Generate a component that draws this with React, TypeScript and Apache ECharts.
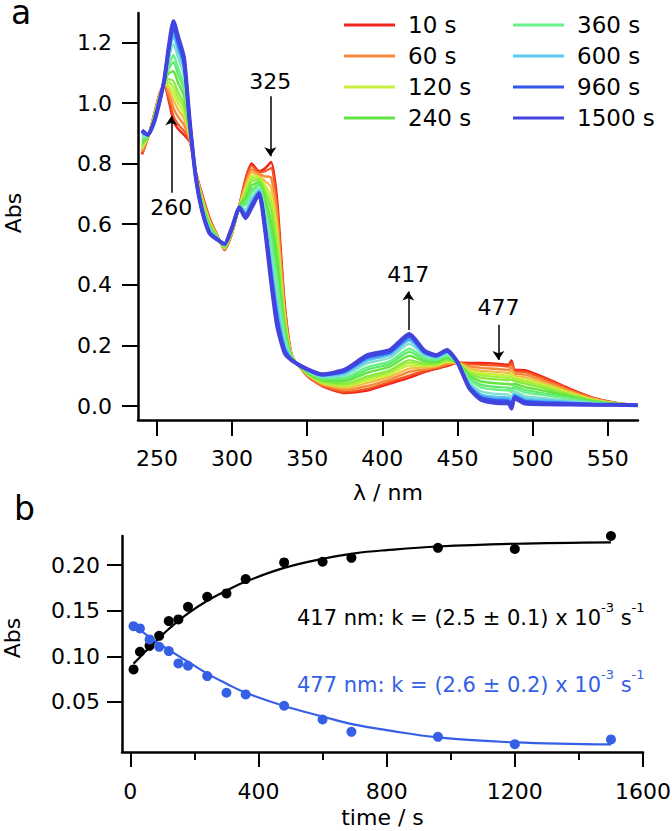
import React, { useEffect, useRef } from 'react';
import * as echarts from 'echarts';

const FONT = 'DejaVu Sans';

// ---------- panel a : spectra ----------
const wavelengths = [240, 244, 248, 252, 255, 258, 261, 264, 268, 272, 276, 280, 285, 290, 295, 300, 305, 309, 313, 318, 322, 326, 330, 335, 340, 350, 360, 375, 390, 405, 418, 428, 436, 443, 450, 458, 466, 476, 484, 486, 488, 495, 510, 525, 540, 555, 570];

const abs10 = [0.83, 0.885, 0.96, 1.035, 1.06, 1.005, 0.94, 0.915, 0.895, 0.87, 0.77, 0.70, 0.62, 0.565, 0.515, 0.57, 0.665, 0.75, 0.80, 0.775, 0.785, 0.805, 0.68, 0.34, 0.165, 0.10, 0.066, 0.043, 0.051, 0.074, 0.094, 0.112, 0.123, 0.132, 0.143, 0.142, 0.142, 0.14, 0.136, 0.15, 0.12, 0.118, 0.09, 0.057, 0.028, 0.011, 0.003];
const abs30 = [0.834, 0.886, 0.959, 1.034, 1.061, 1.014, 0.957, 0.930, 0.908, 0.873, 0.769, 0.697, 0.618, 0.564, 0.516, 0.571, 0.665, 0.744, 0.793, 0.771, 0.775, 0.785, 0.659, 0.332, 0.164, 0.101, 0.068, 0.047, 0.057, 0.080, 0.101, 0.116, 0.125, 0.135, 0.143, 0.138, 0.136, 0.134, 0.130, 0.142, 0.115, 0.113, 0.086, 0.054, 0.027, 0.011, 0.003];
const abs60 = [0.840, 0.886, 0.957, 1.032, 1.063, 1.029, 0.983, 0.955, 0.928, 0.878, 0.767, 0.693, 0.614, 0.563, 0.518, 0.573, 0.664, 0.733, 0.781, 0.765, 0.758, 0.754, 0.626, 0.319, 0.163, 0.103, 0.071, 0.053, 0.066, 0.088, 0.113, 0.121, 0.129, 0.139, 0.143, 0.131, 0.126, 0.123, 0.119, 0.129, 0.108, 0.104, 0.079, 0.050, 0.025, 0.010, 0.003];
const abs90 = [0.847, 0.887, 0.955, 1.030, 1.064, 1.044, 1.009, 0.979, 0.949, 0.883, 0.766, 0.688, 0.610, 0.562, 0.519, 0.574, 0.663, 0.723, 0.770, 0.759, 0.742, 0.722, 0.593, 0.305, 0.162, 0.105, 0.074, 0.059, 0.076, 0.097, 0.124, 0.127, 0.132, 0.143, 0.143, 0.124, 0.116, 0.113, 0.109, 0.117, 0.100, 0.095, 0.072, 0.046, 0.023, 0.010, 0.003];
const abs120 = [0.852, 0.888, 0.953, 1.028, 1.066, 1.057, 1.032, 1.000, 0.966, 0.887, 0.764, 0.685, 0.606, 0.561, 0.521, 0.576, 0.662, 0.714, 0.759, 0.754, 0.728, 0.694, 0.564, 0.294, 0.161, 0.106, 0.077, 0.065, 0.084, 0.105, 0.134, 0.132, 0.136, 0.147, 0.144, 0.118, 0.108, 0.104, 0.100, 0.106, 0.094, 0.087, 0.066, 0.042, 0.021, 0.009, 0.003];
const abs150 = [0.857, 0.888, 0.952, 1.027, 1.067, 1.068, 1.052, 1.019, 0.982, 0.890, 0.763, 0.681, 0.603, 0.560, 0.522, 0.577, 0.662, 0.706, 0.751, 0.750, 0.715, 0.671, 0.539, 0.284, 0.160, 0.107, 0.079, 0.069, 0.091, 0.112, 0.143, 0.136, 0.138, 0.150, 0.144, 0.113, 0.101, 0.096, 0.093, 0.096, 0.088, 0.081, 0.061, 0.039, 0.020, 0.009, 0.003];
const abs180 = [0.862, 0.889, 0.950, 1.025, 1.068, 1.079, 1.072, 1.037, 0.997, 0.894, 0.762, 0.678, 0.600, 0.559, 0.523, 0.578, 0.661, 0.698, 0.742, 0.745, 0.703, 0.647, 0.514, 0.274, 0.159, 0.109, 0.082, 0.074, 0.098, 0.118, 0.152, 0.140, 0.141, 0.153, 0.144, 0.108, 0.093, 0.088, 0.085, 0.087, 0.082, 0.074, 0.056, 0.036, 0.018, 0.008, 0.003];
const abs240 = [0.870, 0.890, 0.948, 1.023, 1.070, 1.098, 1.105, 1.068, 1.023, 0.900, 0.760, 0.673, 0.595, 0.558, 0.525, 0.580, 0.660, 0.685, 0.728, 0.738, 0.683, 0.608, 0.473, 0.258, 0.158, 0.111, 0.086, 0.082, 0.110, 0.130, 0.166, 0.148, 0.146, 0.159, 0.144, 0.100, 0.081, 0.075, 0.073, 0.071, 0.073, 0.063, 0.048, 0.031, 0.016, 0.008, 0.003];
const abs300 = [0.877, 0.891, 0.945, 1.020, 1.072, 1.114, 1.135, 1.095, 1.045, 0.905, 0.758, 0.668, 0.591, 0.556, 0.527, 0.582, 0.659, 0.673, 0.714, 0.731, 0.664, 0.572, 0.435, 0.243, 0.156, 0.113, 0.089, 0.088, 0.120, 0.139, 0.179, 0.154, 0.150, 0.163, 0.144, 0.092, 0.070, 0.063, 0.061, 0.057, 0.065, 0.053, 0.040, 0.026, 0.014, 0.007, 0.003];
const abs360 = [0.883, 0.892, 0.944, 1.019, 1.073, 1.127, 1.158, 1.116, 1.063, 0.910, 0.757, 0.664, 0.587, 0.555, 0.528, 0.583, 0.658, 0.664, 0.704, 0.726, 0.650, 0.544, 0.406, 0.231, 0.155, 0.115, 0.092, 0.094, 0.128, 0.147, 0.189, 0.159, 0.153, 0.167, 0.144, 0.087, 0.061, 0.054, 0.052, 0.046, 0.058, 0.045, 0.035, 0.023, 0.012, 0.006, 0.003];
const abs480 = [0.892, 0.893, 0.941, 1.016, 1.075, 1.147, 1.194, 1.150, 1.091, 0.916, 0.755, 0.658, 0.582, 0.553, 0.530, 0.585, 0.657, 0.650, 0.688, 0.717, 0.627, 0.501, 0.360, 0.213, 0.153, 0.117, 0.096, 0.102, 0.141, 0.159, 0.205, 0.167, 0.158, 0.173, 0.145, 0.077, 0.048, 0.040, 0.038, 0.028, 0.048, 0.033, 0.025, 0.017, 0.010, 0.006, 0.003];
const abs600 = [0.898, 0.894, 0.939, 1.014, 1.077, 1.162, 1.221, 1.174, 1.112, 0.921, 0.753, 0.653, 0.578, 0.552, 0.532, 0.587, 0.657, 0.640, 0.677, 0.711, 0.611, 0.469, 0.327, 0.200, 0.152, 0.119, 0.099, 0.108, 0.150, 0.168, 0.216, 0.172, 0.161, 0.177, 0.145, 0.071, 0.038, 0.030, 0.028, 0.016, 0.040, 0.025, 0.019, 0.013, 0.008, 0.005, 0.003];
const abs690 = [0.901, 0.894, 0.938, 1.013, 1.078, 1.170, 1.234, 1.186, 1.122, 0.923, 0.752, 0.651, 0.576, 0.552, 0.533, 0.588, 0.656, 0.634, 0.671, 0.708, 0.603, 0.453, 0.311, 0.193, 0.152, 0.120, 0.101, 0.112, 0.155, 0.173, 0.222, 0.175, 0.163, 0.179, 0.145, 0.067, 0.033, 0.024, 0.023, 0.009, 0.036, 0.020, 0.015, 0.011, 0.007, 0.005, 0.003];
const abs960 = [0.906, 0.895, 0.936, 1.011, 1.079, 1.181, 1.254, 1.205, 1.137, 0.927, 0.751, 0.648, 0.573, 0.551, 0.534, 0.589, 0.656, 0.627, 0.662, 0.704, 0.590, 0.430, 0.286, 0.183, 0.151, 0.121, 0.103, 0.116, 0.162, 0.179, 0.231, 0.179, 0.166, 0.182, 0.145, 0.062, 0.026, 0.017, 0.015, 0.000, 0.031, 0.014, 0.010, 0.008, 0.005, 0.004, 0.003];
const abs1200 = [0.908, 0.895, 0.936, 1.011, 1.080, 1.186, 1.263, 1.214, 1.145, 0.929, 0.750, 0.646, 0.571, 0.550, 0.535, 0.590, 0.655, 0.623, 0.658, 0.702, 0.584, 0.418, 0.273, 0.178, 0.150, 0.122, 0.104, 0.118, 0.166, 0.183, 0.235, 0.182, 0.167, 0.184, 0.145, 0.060, 0.022, 0.013, 0.012, -0.005, 0.028, 0.010, 0.008, 0.006, 0.005, 0.004, 0.003];
const abs1500 = [0.91, 0.895, 0.935, 1.01, 1.08, 1.19, 1.27, 1.22, 1.15, 0.93, 0.75, 0.645, 0.57, 0.55, 0.535, 0.59, 0.655, 0.62, 0.655, 0.70, 0.58, 0.41, 0.265, 0.175, 0.15, 0.122, 0.105, 0.12, 0.168, 0.185, 0.238, 0.183, 0.168, 0.185, 0.145, 0.058, 0.02, 0.01, 0.009, -0.008, 0.026, 0.008, 0.006, 0.005, 0.004, 0.004, 0.003];

const spectrumNames = ['10 s', '30 s', '60 s', '90 s', '120 s', '150 s', '180 s', '240 s', '300 s', '360 s', '480 s', '600 s', '690 s', '960 s', '1200 s', '1500 s'];
const spectra = [abs10, abs30, abs60, abs90, abs120, abs150, abs180, abs240, abs300, abs360, abs480, abs600, abs690, abs960, abs1200, abs1500];
const spectrumColors = ['#f0261c', '#f4571f', '#f58a3a', '#f5b840', '#c8f03c', '#a8ee3c', '#86ea3e', '#62e442', '#5ee866', '#6cf08c', '#7ee0c8', '#5cc8f0', '#4aa0f0', '#3355ee', '#3a4ae8', '#4343de'];
const spectrumWidths = [2.5, 2.2, 2.5, 2.2, 2.5, 2.2, 2.2, 2.5, 2.2, 2.5, 2.2, 2.5, 2.2, 3.5, 3, 4];
const legendLeft = ['10 s', '60 s', '120 s', '240 s'];
const legendRight = ['360 s', '600 s', '960 s', '1500 s'];

const specXTicks = [250, 300, 350, 400, 450, 500, 550];
const specYTicks = [0, 0.2, 0.4, 0.6, 0.8, 1.0, 1.2];

// annotations of panel a
const annoLabels = ['260', '325', '417', '477'];
const annoX = [259.6, 325.5, 417.3, 477.3];
const annoFrom = [0.704, 1.022, 0.251, 0.268];
const annoTo = [0.956, 0.824, 0.378, 0.152];
const annoTextY = [0.655, 1.071, 0.433, 0.324];

// ---------- panel b : kinetics ----------
const kinTimes = [10, 30, 60, 90, 120, 150, 180, 240, 300, 360, 480, 600, 690, 960, 1200, 1500];
const abs417 = [0.0856, 0.105, 0.1115, 0.1225, 0.1386, 0.1405, 0.1543, 0.1653, 0.169, 0.1847, 0.203, 0.2037, 0.208, 0.219, 0.2177, 0.232];
const abs477 = [0.1331, 0.1306, 0.1185, 0.1104, 0.1057, 0.0922, 0.0896, 0.0783, 0.060, 0.0582, 0.0457, 0.0307, 0.0171, 0.0116, 0.0036, 0.0088];
const fitTimes = [10, 30, 60, 90, 120, 180, 240, 300, 360, 480, 600, 700, 800, 960, 1200, 1500];
const fit417 = [0.092, 0.099, 0.110, 0.120, 0.130, 0.147, 0.161, 0.172, 0.182, 0.197, 0.207, 0.213, 0.2165, 0.2205, 0.2235, 0.225];
const fit477 = [0.134, 0.129, 0.121, 0.114, 0.107, 0.094, 0.081, 0.070, 0.060, 0.0455, 0.034, 0.025, 0.019, 0.011, 0.0055, 0.0033];
const kinXTicks = [0, 400, 800, 1200, 1600];
const kinXMinorTicks = [200, 600, 1000, 1400];
const kinYTicks = [0.05, 0.10, 0.15, 0.20];

const BLUE = '#3560e6';

export default function App() {
  const ref = useRef<HTMLDivElement>(null);
  useEffect(() => {
    if (!ref.current) return;
    const chart = echarts.init(ref.current, null, { renderer: 'svg' });

    const axisLine = { show: true, onZero: false, lineStyle: { color: '#000', width: 2.5 } };
    const tickStyle = { color: '#000', width: 2 };

    const spectrumSeries = spectra.map((arr, i) => ({
      name: spectrumNames[i],
      type: 'line',
      xAxisIndex: 0,
      yAxisIndex: 0,
      data: wavelengths.map((w, j) => [w, arr[j]]),
      symbol: 'none',
      showSymbol: false,
      smooth: 0.2,
      color: spectrumColors[i],
      itemStyle: { color: spectrumColors[i] },
      lineStyle: { color: spectrumColors[i], width: spectrumWidths[i] },
      silent: true,
      z: 2 + i,
    }));

    const annoSeries = {
      name: 'annotations',
      type: 'line',
      xAxisIndex: 0,
      yAxisIndex: 0,
      data: [],
      silent: true,
      z: 30,
      markLine: {
        silent: true,
        symbol: ['none', 'arrow'],
        symbolSize: 9,
        label: { show: false },
        lineStyle: { color: '#000', width: 1.5, type: 'solid' },
        data: annoLabels.map((_, i) => [
          { coord: [annoX[i], annoFrom[i]] },
          { coord: [annoX[i], annoTo[i]] },
        ]),
      },
      markPoint: {
        silent: true,
        symbol: 'circle',
        symbolSize: 0,
        label: {
          show: true,
          position: 'inside',
          color: '#000',
          fontSize: 22,
          fontFamily: FONT,
          formatter: (p: any) => p.name,
        },
        data: annoLabels.map((l, i) => ({ name: l, coord: [annoX[i], annoTextY[i]] })),
      },
    };

    const legendCommon = {
      orient: 'vertical',
      top: 12,
      icon: 'rect',
      itemWidth: 51,
      itemHeight: 3,
      itemGap: 5,
      padding: 0,
      selectedMode: false,
      textStyle: { fontSize: 23, lineHeight: 26, fontFamily: FONT, color: '#000', padding: [0, 0, 0, 8] },
    };

    const option: any = {
      animation: false,
      backgroundColor: '#fff',
      textStyle: { fontFamily: FONT },
      grid: [
        { left: 138, top: 13, width: 500, height: 407, containLabel: false, outerBoundsMode: 'none' },
        { left: 122, top: 536, width: 521, height: 216, containLabel: false, outerBoundsMode: 'none' },
      ],
      legend: [
        { ...legendCommon, left: 344, data: legendLeft },
        { ...legendCommon, left: 513, data: legendRight },
      ],
      xAxis: [
        {
          type: 'value', gridIndex: 0, min: 237.4, max: 570.2,
          name: 'λ / nm', nameLocation: 'middle', nameGap: 61,
          nameTextStyle: { fontSize: 22, color: '#000', fontFamily: FONT },
          axisLine,
          axisTick: { show: true, customValues: specXTicks, length: 16, lineStyle: tickStyle },
          axisLabel: { customValues: specXTicks, margin: 27, fontSize: 22, color: '#000', fontFamily: FONT, formatter: (v: number) => String(v) },
          splitLine: { show: false },
        },
        {
          type: 'value', gridIndex: 1, min: -26, max: 1600,
          name: 'time / s', nameLocation: 'middle', nameGap: 54,
          nameTextStyle: { fontSize: 22, color: '#000', fontFamily: FONT },
          axisLine,
          axisTick: { show: true, customValues: kinXTicks, length: 15, lineStyle: tickStyle },
          axisLabel: { customValues: kinXTicks, margin: 28, fontSize: 22, color: '#000', fontFamily: FONT, formatter: (v: number) => String(v) },
          splitLine: { show: false },
        },
        {
          type: 'value', gridIndex: 1, min: -26, max: 1600, position: 'bottom',
          axisLine: { show: false, onZero: false },
          axisTick: { show: true, customValues: kinXMinorTicks, length: 8, lineStyle: tickStyle },
          axisLabel: { show: false },
          splitLine: { show: false },
        },
      ],
      yAxis: [
        {
          type: 'value', gridIndex: 0, min: -0.046, max: 1.297,
          name: 'Abs', nameLocation: 'middle', nameGap: 114, nameRotate: 90,
          nameTextStyle: { fontSize: 22, color: '#000', fontFamily: FONT, padding: [0, 0, 0, 7] },
          axisLine,
          axisTick: { show: true, customValues: specYTicks, length: 16, lineStyle: tickStyle },
          axisLabel: {
            customValues: specYTicks, margin: 26, fontSize: 22, color: '#000', fontFamily: FONT,
            formatter: (v: number) => v.toFixed(1),
          },
          splitLine: { show: false },
        },
        {
          type: 'value', gridIndex: 1, min: -0.005, max: 0.232,
          name: 'Abs', nameLocation: 'middle', nameGap: 99, nameRotate: 90,
          nameTextStyle: { fontSize: 22, color: '#000', fontFamily: FONT, padding: [0, 0, 0, 12] },
          axisLine,
          axisTick: { show: true, customValues: kinYTicks, length: 15, lineStyle: tickStyle },
          axisLabel: {
            customValues: kinYTicks, margin: 22, fontSize: 22, color: '#000', fontFamily: FONT,
            formatter: (v: number) => v.toFixed(2),
          },
          splitLine: { show: false },
        },
      ],
      series: [
        ...spectrumSeries,
        annoSeries,
        {
          name: 'fit 417 nm', type: 'line', xAxisIndex: 1, yAxisIndex: 1,
          data: fitTimes.map((t, i) => [t, fit417[i]]),
          symbol: 'none', smooth: 0.4, color: '#000',
          lineStyle: { color: '#000', width: 2.2 }, silent: true, z: 3,
        },
        {
          name: 'fit 477 nm', type: 'line', xAxisIndex: 1, yAxisIndex: 1,
          data: fitTimes.map((t, i) => [t, fit477[i]]),
          symbol: 'none', smooth: 0.4, color: BLUE,
          lineStyle: { color: BLUE, width: 2.2 }, silent: true, z: 3,
        },
        {
          name: '417 nm', type: 'scatter', xAxisIndex: 1, yAxisIndex: 1,
          data: kinTimes.map((t, i) => [t, abs417[i]]),
          symbol: 'circle', symbolSize: 10, itemStyle: { color: '#000', opacity: 1 }, silent: true, z: 4,
        },
        {
          name: '477 nm', type: 'scatter', xAxisIndex: 1, yAxisIndex: 1,
          data: kinTimes.map((t, i) => [t, abs477[i]]),
          symbol: 'circle', symbolSize: 10, itemStyle: { color: BLUE, opacity: 1 }, silent: true, z: 4,
        },
      ],
      graphic: [
        { type: 'text', x: 11, y: 2, style: { text: 'a', fontSize: 33, lineHeight: 20, fontFamily: FONT, fill: '#000', verticalAlign: 'top', align: 'left' } },
        { type: 'text', x: 14, y: 497, style: { text: 'b', fontSize: 33, lineHeight: 22, fontFamily: FONT, fill: '#000', verticalAlign: 'top', align: 'left' } },
        {
          type: 'text', x: 297, y: 601,
          style: {
            text: '{m|417 nm: k = (2.5 ± 0.1) x 10}{s|-3}{m| s}{s|-1}',
            fill: '#000', fontFamily: FONT, verticalAlign: 'top', align: 'left',
            rich: {
              m: { fontSize: 21, lineHeight: 34, fontFamily: FONT, fill: '#000' },
              s: { fontSize: 13, lineHeight: 14, fontFamily: FONT, fill: '#000', verticalAlign: 'top' },
            },
          },
        },
        {
          type: 'text', x: 297, y: 668,
          style: {
            text: '{m|477 nm: k = (2.6 ± 0.2) x 10}{s|-3}{m| s}{s|-1}',
            fill: BLUE, fontFamily: FONT, verticalAlign: 'top', align: 'left',
            rich: {
              m: { fontSize: 21, lineHeight: 34, fontFamily: FONT, fill: BLUE },
              s: { fontSize: 13, lineHeight: 14, fontFamily: FONT, fill: BLUE, verticalAlign: 'top' },
            },
          },
        },
      ],
    };

    chart.setOption(option);
    return () => chart.dispose();
  }, []);

  return (
    <div
      ref={ref}
      style={{ position: 'absolute', left: 0, top: 0, width: 672, height: 831, background: '#fff' }}
    />
  );
}
